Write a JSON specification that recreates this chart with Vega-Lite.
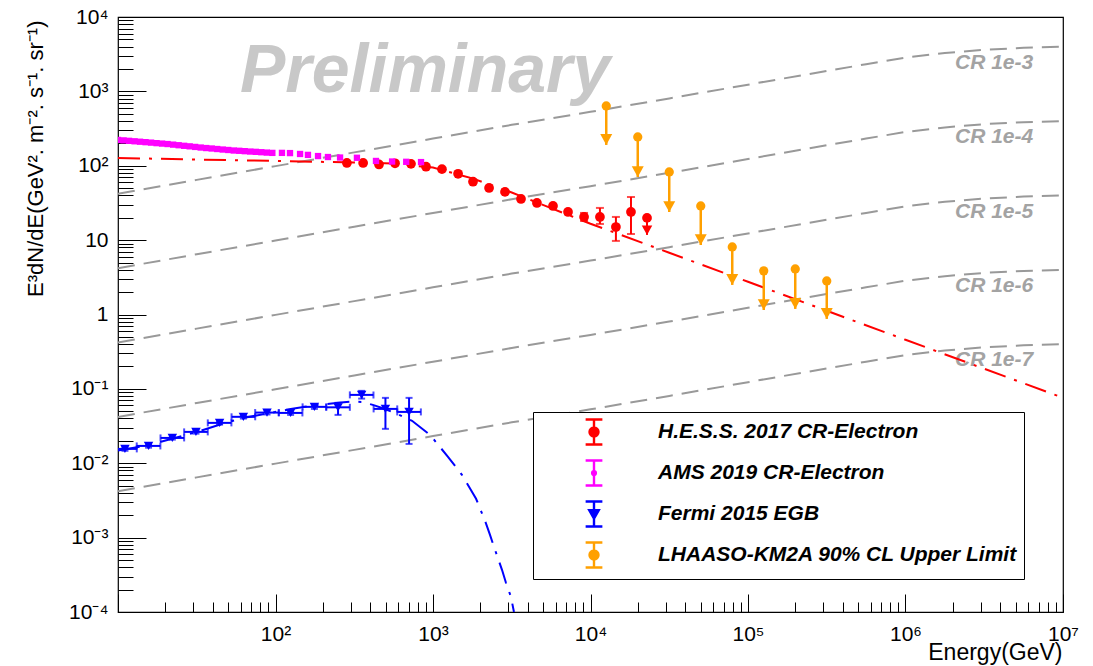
{
  "$schema": "https://vega.github.io/schema/vega-lite/v6.json",
  "width": 945,
  "height": 595,
  "autosize": "none",
  "padding": {"left": 118, "top": 17, "right": 30, "bottom": 54},
  "background": "white",
  "config": {
    "view": {"stroke": "black", "strokeWidth": 1.2, "fill": "white"},
    "axis": {"grid": false}
  },
  "datasets": {
    "cr": [
      {"E": 10, "v": 41.98, "line": "CR 1e-3"}, {"E": 31.623, "v": 64.57, "line": "CR 1e-3"}, {"E": 100, "v": 98.86, "line": "CR 1e-3"}, {"E": 316.23, "v": 151.36, "line": "CR 1e-3"}, {"E": 1000, "v": 231.74, "line": "CR 1e-3"}, {"E": 3162.3, "v": 354.81, "line": "CR 1e-3"}, {"E": 10000, "v": 530.88, "line": "CR 1e-3"}, {"E": 31623, "v": 803.53, "line": "CR 1e-3"}, {"E": 100000, "v": 1230.3, "line": "CR 1e-3"}, {"E": 316228, "v": 1883.6, "line": "CR 1e-3"}, {"E": 562341, "v": 2317.4, "line": "CR 1e-3"}, {"E": 1000000, "v": 2851.0, "line": "CR 1e-3"}, {"E": 1778279, "v": 3273.4, "line": "CR 1e-3"}, {"E": 3162278, "v": 3630.8, "line": "CR 1e-3"}, {"E": 5623413, "v": 3845.9, "line": "CR 1e-3"}, {"E": 10000000, "v": 3981.1, "line": "CR 1e-3"},
      {"E": 10, "v": 4.198, "line": "CR 1e-4"}, {"E": 31.623, "v": 6.457, "line": "CR 1e-4"}, {"E": 100, "v": 9.886, "line": "CR 1e-4"}, {"E": 316.23, "v": 15.136, "line": "CR 1e-4"}, {"E": 1000, "v": 23.174, "line": "CR 1e-4"}, {"E": 3162.3, "v": 35.481, "line": "CR 1e-4"}, {"E": 10000, "v": 53.088, "line": "CR 1e-4"}, {"E": 31623, "v": 80.353, "line": "CR 1e-4"}, {"E": 100000, "v": 123.03, "line": "CR 1e-4"}, {"E": 316228, "v": 188.36, "line": "CR 1e-4"}, {"E": 562341, "v": 231.74, "line": "CR 1e-4"}, {"E": 1000000, "v": 285.10, "line": "CR 1e-4"}, {"E": 1778279, "v": 327.34, "line": "CR 1e-4"}, {"E": 3162278, "v": 363.08, "line": "CR 1e-4"}, {"E": 5623413, "v": 384.59, "line": "CR 1e-4"}, {"E": 10000000, "v": 398.11, "line": "CR 1e-4"},
      {"E": 10, "v": 0.4198, "line": "CR 1e-5"}, {"E": 31.623, "v": 0.6457, "line": "CR 1e-5"}, {"E": 100, "v": 0.9886, "line": "CR 1e-5"}, {"E": 316.23, "v": 1.5136, "line": "CR 1e-5"}, {"E": 1000, "v": 2.3174, "line": "CR 1e-5"}, {"E": 3162.3, "v": 3.5481, "line": "CR 1e-5"}, {"E": 10000, "v": 5.3088, "line": "CR 1e-5"}, {"E": 31623, "v": 8.0353, "line": "CR 1e-5"}, {"E": 100000, "v": 12.303, "line": "CR 1e-5"}, {"E": 316228, "v": 18.836, "line": "CR 1e-5"}, {"E": 562341, "v": 23.174, "line": "CR 1e-5"}, {"E": 1000000, "v": 28.510, "line": "CR 1e-5"}, {"E": 1778279, "v": 32.734, "line": "CR 1e-5"}, {"E": 3162278, "v": 36.308, "line": "CR 1e-5"}, {"E": 5623413, "v": 38.459, "line": "CR 1e-5"}, {"E": 10000000, "v": 39.811, "line": "CR 1e-5"},
      {"E": 10, "v": 0.04198, "line": "CR 1e-6"}, {"E": 31.623, "v": 0.06457, "line": "CR 1e-6"}, {"E": 100, "v": 0.09886, "line": "CR 1e-6"}, {"E": 316.23, "v": 0.15136, "line": "CR 1e-6"}, {"E": 1000, "v": 0.23174, "line": "CR 1e-6"}, {"E": 3162.3, "v": 0.35481, "line": "CR 1e-6"}, {"E": 10000, "v": 0.53088, "line": "CR 1e-6"}, {"E": 31623, "v": 0.80353, "line": "CR 1e-6"}, {"E": 100000, "v": 1.2303, "line": "CR 1e-6"}, {"E": 316228, "v": 1.8836, "line": "CR 1e-6"}, {"E": 562341, "v": 2.3174, "line": "CR 1e-6"}, {"E": 1000000, "v": 2.8510, "line": "CR 1e-6"}, {"E": 1778279, "v": 3.2734, "line": "CR 1e-6"}, {"E": 3162278, "v": 3.6308, "line": "CR 1e-6"}, {"E": 5623413, "v": 3.8459, "line": "CR 1e-6"}, {"E": 10000000, "v": 3.9811, "line": "CR 1e-6"},
      {"E": 10, "v": 0.004198, "line": "CR 1e-7"}, {"E": 31.623, "v": 0.006457, "line": "CR 1e-7"}, {"E": 100, "v": 0.009886, "line": "CR 1e-7"}, {"E": 316.23, "v": 0.015136, "line": "CR 1e-7"}, {"E": 1000, "v": 0.023174, "line": "CR 1e-7"}, {"E": 3162.3, "v": 0.035481, "line": "CR 1e-7"}, {"E": 10000, "v": 0.053088, "line": "CR 1e-7"}, {"E": 31623, "v": 0.080353, "line": "CR 1e-7"}, {"E": 100000, "v": 0.12303, "line": "CR 1e-7"}, {"E": 316228, "v": 0.18836, "line": "CR 1e-7"}, {"E": 562341, "v": 0.23174, "line": "CR 1e-7"}, {"E": 1000000, "v": 0.28510, "line": "CR 1e-7"}, {"E": 1778279, "v": 0.32734, "line": "CR 1e-7"}, {"E": 3162278, "v": 0.36308, "line": "CR 1e-7"}, {"E": 5623413, "v": 0.38459, "line": "CR 1e-7"}, {"E": 10000000, "v": 0.39811, "line": "CR 1e-7"}
    ],
    "crLabels": [
      {"E": 3650000, "v": 2000, "label": "CR 1e-3"},
      {"E": 3650000, "v": 200, "label": "CR 1e-4"},
      {"E": 3650000, "v": 20, "label": "CR 1e-5"},
      {"E": 3650000, "v": 2, "label": "CR 1e-6"},
      {"E": 3650000, "v": 0.2, "label": "CR 1e-7"}
    ],
    "watermark": [{"E": 59.5, "v": 981, "label": "Preliminary"}],
    "hessFit": [
      {"E": 10, "v": 127.1}, {"E": 31.62, "v": 121.3}, {"E": 100, "v": 115.9}, {"E": 316.2, "v": 110.7}, {"E": 562.3, "v": 107.2}, {"E": 1000, "v": 94.4}, {"E": 1778, "v": 67.6}, {"E": 3162, "v": 43.65}, {"E": 5623, "v": 26.9}, {"E": 10000, "v": 16.6}, {"E": 31623, "v": 6.76}, {"E": 100000, "v": 2.754}, {"E": 316228, "v": 1.122}, {"E": 1000000, "v": 0.457}, {"E": 3162278, "v": 0.1862}, {"E": 10000000, "v": 0.0759}
    ],
    "fermiFit": [
      {"E": 10, "v": 0.0148}, {"E": 15, "v": 0.0172}, {"E": 22, "v": 0.0213}, {"E": 32, "v": 0.0265}, {"E": 45, "v": 0.0335}, {"E": 62, "v": 0.0405}, {"E": 88, "v": 0.0465}, {"E": 125, "v": 0.0535}, {"E": 175, "v": 0.06}, {"E": 250, "v": 0.065}, {"E": 300, "v": 0.0675}, {"E": 354, "v": 0.0668}, {"E": 420, "v": 0.0605}, {"E": 490, "v": 0.054}, {"E": 600, "v": 0.0455}, {"E": 736, "v": 0.0372}, {"E": 957, "v": 0.0241}, {"E": 1092, "v": 0.01714}, {"E": 1245, "v": 0.0122}, {"E": 1527, "v": 0.00698}, {"E": 1693, "v": 0.00482}, {"E": 1877, "v": 0.00333}, {"E": 2140, "v": 0.00168}, {"E": 2301, "v": 0.00109}, {"E": 2439, "v": 0.000752}, {"E": 2742, "v": 0.000369}, {"E": 2905, "v": 0.000247}, {"E": 3126, "v": 0.00016}, {"E": 3266, "v": 0.0001}
    ],
    "fermi": [
      {"E": 11.07, "v": 0.0156, "xlo": 9.31, "xhi": 13.16, "lo": 0.0147, "hi": 0.0165},
      {"E": 15.63, "v": 0.0171, "xlo": 13.15, "xhi": 18.58, "lo": 0.0162, "hi": 0.018},
      {"E": 22.13, "v": 0.0219, "xlo": 18.62, "xhi": 26.3, "lo": 0.0208, "hi": 0.0231},
      {"E": 31.26, "v": 0.0264, "xlo": 26.3, "xhi": 37.15, "lo": 0.025, "hi": 0.0279},
      {"E": 44.16, "v": 0.0349, "xlo": 37.16, "xhi": 52.48, "lo": 0.0331, "hi": 0.0368},
      {"E": 62.52, "v": 0.0421, "xlo": 52.6, "xhi": 74.31, "lo": 0.0399, "hi": 0.0444},
      {"E": 88.31, "v": 0.048, "xlo": 74.3, "xhi": 104.96, "lo": 0.0453, "hi": 0.0508},
      {"E": 124.7, "v": 0.0475, "xlo": 104.9, "xhi": 148.2, "lo": 0.0447, "hi": 0.0505},
      {"E": 176.6, "v": 0.0573, "xlo": 148.6, "xhi": 209.9, "lo": 0.0538, "hi": 0.061},
      {"E": 249.5, "v": 0.0565, "xlo": 209.9, "xhi": 296.5, "lo": 0.0447, "hi": 0.0649},
      {"E": 352.4, "v": 0.083, "xlo": 296.5, "xhi": 418.8, "lo": 0.074, "hi": 0.094},
      {"E": 498.9, "v": 0.0538, "xlo": 419.8, "xhi": 592.9, "lo": 0.029, "hi": 0.0757},
      {"E": 704.7, "v": 0.049, "xlo": 592.9, "xhi": 837.5, "lo": 0.0182, "hi": 0.0757}
    ],
    "hess": [
      {"E": 284, "v": 109}, {"E": 360, "v": 109}, {"E": 454, "v": 104}, {"E": 574, "v": 108}, {"E": 725, "v": 106}, {"E": 903, "v": 97}, {"E": 1140, "v": 90}, {"E": 1443, "v": 78}, {"E": 1795, "v": 61}, {"E": 2270, "v": 50.3}, {"E": 2865, "v": 44.5}, {"E": 3620, "v": 35.8}, {"E": 4570, "v": 31.6}, {"E": 5780, "v": 28.8, "lo": 27.2, "hi": 30.5}, {"E": 7200, "v": 23.9, "lo": 22.4, "hi": 25.5}, {"E": 9100, "v": 20.5, "lo": 18.1, "hi": 23.2}, {"E": 11480, "v": 20.5, "lo": 16.5, "hi": 27.1}, {"E": 14500, "v": 15.0, "lo": 9.76, "hi": 20.5}, {"E": 18070, "v": 23.9, "lo": 12.1, "hi": 38.1}
    ],
    "hessUL": [{"E": 22850, "v": 19.9, "tip": 11.75}],
    "ams": [
      {"E": 10.0, "v": 222.3}, {"E": 10.84, "v": 219.3}, {"E": 11.75, "v": 216.3}, {"E": 12.74, "v": 213.3}, {"E": 13.8, "v": 210.4}, {"E": 14.96, "v": 207.5}, {"E": 16.22, "v": 204.6}, {"E": 17.58, "v": 201.4}, {"E": 19.05, "v": 198.6}, {"E": 20.65, "v": 195.9}, {"E": 22.39, "v": 192.3}, {"E": 24.27, "v": 188.8}, {"E": 26.3, "v": 185.4}, {"E": 28.51, "v": 182.4}, {"E": 30.9, "v": 179.1}, {"E": 33.5, "v": 175.8}, {"E": 36.31, "v": 173.0}, {"E": 39.36, "v": 170.6}, {"E": 42.66, "v": 167.9}, {"E": 46.24, "v": 165.2}, {"E": 50.12, "v": 162.9}, {"E": 54.33, "v": 160.3}, {"E": 58.88, "v": 158.9}, {"E": 63.83, "v": 157.0}, {"E": 69.18, "v": 155.2}, {"E": 74.99, "v": 153.8}, {"E": 81.28, "v": 152.1}, {"E": 88.1, "v": 150.3}, {"E": 95.5, "v": 148.9},
      {"E": 109.9, "v": 149}, {"E": 123.6, "v": 148}, {"E": 143.2, "v": 144}, {"E": 160.7, "v": 140}, {"E": 186.2, "v": 135}, {"E": 215.3, "v": 131}, {"E": 257, "v": 129}, {"E": 328.9, "v": 128}, {"E": 434.5, "v": 116}, {"E": 550, "v": 114}, {"E": 676, "v": 113}, {"E": 839.5, "v": 112}
    ],
    "lhaaso": [
      {"E": 12589, "v": 637, "tip": 190.6}, {"E": 19953, "v": 244, "tip": 70.6}, {"E": 31623, "v": 82.6, "tip": 23.9}, {"E": 50119, "v": 28.8, "tip": 8.6}, {"E": 79433, "v": 8.1, "tip": 2.5}, {"E": 125893, "v": 3.86, "tip": 1.15}, {"E": 199526, "v": 4.1, "tip": 1.19}, {"E": 316228, "v": 2.83, "tip": 0.873}
    ],
    "legendRows": [
      {"series": "H.E.S.S. 2017 CR-Electron"},
      {"series": "AMS 2019 CR-Electron"},
      {"series": "Fermi 2015 EGB"},
      {"series": "LHAASO-KM2A 90% CL Upper Limit"}
    ]
  },
  "layer": [
    {
      "data": {"name": "cr"},
      "mark": {"type": "line", "color": "#999999", "strokeWidth": 2, "strokeDash": [17, 9], "clip": true},
      "encoding": {
        "x": {"field": "E", "type": "quantitative", "scale": {"type": "log", "domain": [10, 10000000], "nice": false},
          "axis": {"orient": "bottom", "values": [100, 1000, 10000, 100000, 1000000, 10000000],
            "labelExpr": "datum.value < 500 ? '10²' : datum.value < 5000 ? '10³' : datum.value < 50000 ? '10⁴' : datum.value < 500000 ? '10⁵' : datum.value < 5000000 ? '10⁶' : '10⁷'",
            "ticks": false, "domain": false, "grid": false, "labelFont": "Liberation Sans", "labelFontSize": 21, "labelColor": "black", "labelPadding": 11, "labelFlush": false, "labelOverlap": false,
            "title": "Energy(GeV)", "titleX": 944, "titleY": 47, "titleAlign": "right", "titleBaseline": "alphabetic", "titleFont": "Liberation Sans", "titleFontSize": 23, "titleFontWeight": "normal", "titleColor": "black"}},
        "y": {"field": "v", "type": "quantitative", "scale": {"type": "log", "domain": [0.0001, 10000], "nice": false},
          "axis": {"orient": "left", "values": [0.0001, 0.001, 0.01, 0.1, 1, 10, 100, 1000, 10000],
            "labelExpr": "datum.value < 0.0005 ? '10⁻⁴' : datum.value < 0.005 ? '10⁻³' : datum.value < 0.05 ? '10⁻²' : datum.value < 0.5 ? '10⁻¹' : datum.value < 5 ? '1' : datum.value < 50 ? '10' : datum.value < 500 ? '10²' : datum.value < 5000 ? '10³' : '10⁴'",
            "ticks": false, "domain": false, "grid": false, "labelFont": "Liberation Sans", "labelFontSize": 21, "labelColor": "black", "labelPadding": 10, "labelFlush": false, "labelOverlap": false,
            "title": "E³dN/dE(GeV². m⁻². s⁻¹. sr⁻¹)", "titleX": -76, "titleY": 3, "titleAngle": 270, "titleAlign": "right", "titleBaseline": "alphabetic", "titleFont": "Liberation Sans", "titleFontSize": 22, "titleFontWeight": "normal", "titleColor": "black"}},
        "detail": {"field": "line", "type": "nominal"}
      }
    },
    {
      "data": {"name": "crLabels"},
      "mark": {"type": "text", "color": "#a3a3a3", "font": "Liberation Sans", "fontSize": 21, "fontStyle": "italic", "fontWeight": "bold", "align": "center", "baseline": "alphabetic"},
      "encoding": {
        "x": {"field": "E", "type": "quantitative", "scale": {"type": "log", "domain": [10, 10000000], "nice": false}, "axis": null},
        "y": {"field": "v", "type": "quantitative", "scale": {"type": "log", "domain": [0.0001, 10000], "nice": false}, "axis": null},
        "text": {"field": "label", "type": "nominal"}
      }
    },
    {
      "data": {"name": "watermark"},
      "mark": {"type": "text", "color": "#c8c8c8", "font": "Liberation Sans", "fontSize": 68, "fontStyle": "italic", "fontWeight": "bold", "align": "left", "baseline": "alphabetic"},
      "encoding": {
        "x": {"field": "E", "type": "quantitative", "scale": {"type": "log", "domain": [10, 10000000], "nice": false}, "axis": null},
        "y": {"field": "v", "type": "quantitative", "scale": {"type": "log", "domain": [0.0001, 10000], "nice": false}, "axis": null},
        "text": {"field": "label", "type": "nominal"}
      }
    },
    {
      "data": {"name": "hessFit"},
      "mark": {"type": "line", "color": "#ff0000", "strokeWidth": 2, "strokeDash": [22, 9, 3, 9], "clip": true},
      "encoding": {
        "x": {"field": "E", "type": "quantitative", "scale": {"type": "log", "domain": [10, 10000000], "nice": false},
          "axis": {"orient": "bottom", "values": [10, 100, 1000, 10000, 100000, 1000000, 10000000], "labels": false, "domain": false, "grid": false, "ticks": true, "tickSize": -18, "tickColor": "black", "tickWidth": 1, "title": null}},
        "y": {"field": "v", "type": "quantitative", "scale": {"type": "log", "domain": [0.0001, 10000], "nice": false},
          "axis": {"orient": "left", "values": [0.0001, 0.001, 0.01, 0.1, 1, 10, 100, 1000, 10000], "labels": false, "domain": false, "grid": false, "ticks": true, "tickSize": -28, "tickColor": "black", "tickWidth": 1, "title": null}}
      }
    },
    {
      "data": {"name": "fermiFit"},
      "mark": {"type": "line", "color": "#0000ff", "strokeWidth": 2, "strokeDash": [22, 9, 3, 9], "clip": true},
      "encoding": {
        "x": {"field": "E", "type": "quantitative", "scale": {"type": "log", "domain": [10, 10000000], "nice": false},
          "axis": {"orient": "bottom", "values": [20, 30, 40, 50, 60, 70, 80, 90, 200, 300, 400, 500, 600, 700, 800, 900, 2000, 3000, 4000, 5000, 6000, 7000, 8000, 9000, 20000, 30000, 40000, 50000, 60000, 70000, 80000, 90000, 200000, 300000, 400000, 500000, 600000, 700000, 800000, 900000, 2000000, 3000000, 4000000, 5000000, 6000000, 7000000, 8000000, 9000000], "labels": false, "domain": false, "grid": false, "ticks": true, "tickSize": -10, "tickColor": "black", "tickWidth": 1, "title": null}},
        "y": {"field": "v", "type": "quantitative", "scale": {"type": "log", "domain": [0.0001, 10000], "nice": false},
          "axis": {"orient": "left", "values": [0.0002, 0.0003, 0.0004, 0.0005, 0.0006, 0.0007, 0.0008, 0.0009, 0.002, 0.003, 0.004, 0.005, 0.006, 0.007, 0.008, 0.009, 0.02, 0.03, 0.04, 0.05, 0.06, 0.07, 0.08, 0.09, 0.2, 0.3, 0.4, 0.5, 0.6, 0.7, 0.8, 0.9, 2, 3, 4, 5, 6, 7, 8, 9, 20, 30, 40, 50, 60, 70, 80, 90, 200, 300, 400, 500, 600, 700, 800, 900, 2000, 3000, 4000, 5000, 6000, 7000, 8000, 9000], "labels": false, "domain": false, "grid": false, "ticks": true, "tickSize": -15, "tickColor": "black", "tickWidth": 1, "title": null}}
      }
    },
    {
      "data": {"name": "fermi"},
      "mark": {"type": "rule", "color": "#0000ff", "strokeWidth": 2, "clip": true},
      "encoding": {
        "x": {"field": "xlo", "type": "quantitative", "scale": {"type": "log", "domain": [10, 10000000], "nice": false}, "axis": null},
        "x2": {"field": "xhi"},
        "y": {"field": "v", "type": "quantitative", "scale": {"type": "log", "domain": [0.0001, 10000], "nice": false}, "axis": null}
      }
    },
    {
      "data": {"name": "fermi"},
      "mark": {"type": "rule", "color": "#0000ff", "strokeWidth": 2, "clip": true},
      "encoding": {
        "x": {"field": "E", "type": "quantitative", "scale": {"type": "log", "domain": [10, 10000000], "nice": false}, "axis": null},
        "y": {"field": "lo", "type": "quantitative", "scale": {"type": "log", "domain": [0.0001, 10000], "nice": false}, "axis": null},
        "y2": {"field": "hi"}
      }
    },
    {
      "data": {"name": "fermi"},
      "mark": {"type": "tick", "orient": "vertical", "color": "#0000ff", "size": 7, "thickness": 2, "clip": true},
      "encoding": {
        "x": {"field": "xlo", "type": "quantitative", "scale": {"type": "log", "domain": [10, 10000000], "nice": false}, "axis": null},
        "y": {"field": "v", "type": "quantitative", "scale": {"type": "log", "domain": [0.0001, 10000], "nice": false}, "axis": null}
      }
    },
    {
      "data": {"name": "fermi"},
      "mark": {"type": "tick", "orient": "vertical", "color": "#0000ff", "size": 7, "thickness": 2, "clip": true},
      "encoding": {
        "x": {"field": "xhi", "type": "quantitative", "scale": {"type": "log", "domain": [10, 10000000], "nice": false}, "axis": null},
        "y": {"field": "v", "type": "quantitative", "scale": {"type": "log", "domain": [0.0001, 10000], "nice": false}, "axis": null}
      }
    },
    {
      "data": {"name": "fermi"},
      "mark": {"type": "tick", "orient": "horizontal", "color": "#0000ff", "size": 7, "thickness": 2, "clip": true},
      "encoding": {
        "x": {"field": "E", "type": "quantitative", "scale": {"type": "log", "domain": [10, 10000000], "nice": false}, "axis": null},
        "y": {"field": "lo", "type": "quantitative", "scale": {"type": "log", "domain": [0.0001, 10000], "nice": false}, "axis": null}
      }
    },
    {
      "data": {"name": "fermi"},
      "mark": {"type": "tick", "orient": "horizontal", "color": "#0000ff", "size": 7, "thickness": 2, "clip": true},
      "encoding": {
        "x": {"field": "E", "type": "quantitative", "scale": {"type": "log", "domain": [10, 10000000], "nice": false}, "axis": null},
        "y": {"field": "hi", "type": "quantitative", "scale": {"type": "log", "domain": [0.0001, 10000], "nice": false}, "axis": null}
      }
    },
    {
      "data": {"name": "fermi"},
      "mark": {"type": "point", "shape": "triangle-down", "filled": true, "color": "#0000ff", "size": 90, "opacity": 1, "clip": true},
      "encoding": {
        "x": {"field": "E", "type": "quantitative", "scale": {"type": "log", "domain": [10, 10000000], "nice": false}, "axis": null},
        "y": {"field": "v", "type": "quantitative", "scale": {"type": "log", "domain": [0.0001, 10000], "nice": false}, "axis": null}
      }
    },
    {
      "data": {"name": "hess"},
      "transform": [{"filter": "isValid(datum.lo)"}],
      "mark": {"type": "rule", "color": "#ff0000", "strokeWidth": 2},
      "encoding": {
        "x": {"field": "E", "type": "quantitative", "scale": {"type": "log", "domain": [10, 10000000], "nice": false}, "axis": null},
        "y": {"field": "lo", "type": "quantitative", "scale": {"type": "log", "domain": [0.0001, 10000], "nice": false}, "axis": null},
        "y2": {"field": "hi"}
      }
    },
    {
      "data": {"name": "hess"},
      "transform": [{"filter": "isValid(datum.lo)"}],
      "mark": {"type": "tick", "orient": "horizontal", "color": "#ff0000", "size": 8, "thickness": 2},
      "encoding": {
        "x": {"field": "E", "type": "quantitative", "scale": {"type": "log", "domain": [10, 10000000], "nice": false}, "axis": null},
        "y": {"field": "lo", "type": "quantitative", "scale": {"type": "log", "domain": [0.0001, 10000], "nice": false}, "axis": null}
      }
    },
    {
      "data": {"name": "hess"},
      "transform": [{"filter": "isValid(datum.hi)"}],
      "mark": {"type": "tick", "orient": "horizontal", "color": "#ff0000", "size": 8, "thickness": 2},
      "encoding": {
        "x": {"field": "E", "type": "quantitative", "scale": {"type": "log", "domain": [10, 10000000], "nice": false}, "axis": null},
        "y": {"field": "hi", "type": "quantitative", "scale": {"type": "log", "domain": [0.0001, 10000], "nice": false}, "axis": null}
      }
    },
    {
      "data": {"name": "hess"},
      "mark": {"type": "circle", "color": "#ff0000", "size": 95, "opacity": 1},
      "encoding": {
        "x": {"field": "E", "type": "quantitative", "scale": {"type": "log", "domain": [10, 10000000], "nice": false}, "axis": null},
        "y": {"field": "v", "type": "quantitative", "scale": {"type": "log", "domain": [0.0001, 10000], "nice": false}, "axis": null}
      }
    },
    {
      "data": {"name": "hessUL"},
      "mark": {"type": "rule", "color": "#ff0000", "strokeWidth": 2},
      "encoding": {
        "x": {"field": "E", "type": "quantitative", "scale": {"type": "log", "domain": [10, 10000000], "nice": false}, "axis": null},
        "y": {"field": "v", "type": "quantitative", "scale": {"type": "log", "domain": [0.0001, 10000], "nice": false}, "axis": null},
        "y2": {"field": "tip"}
      }
    },
    {
      "data": {"name": "hessUL"},
      "mark": {"type": "point", "shape": "M-1,-1.8L1,-1.8L0,0Z", "filled": true, "color": "#ff0000", "size": 110, "opacity": 1},
      "encoding": {
        "x": {"field": "E", "type": "quantitative", "scale": {"type": "log", "domain": [10, 10000000], "nice": false}, "axis": null},
        "y": {"field": "tip", "type": "quantitative", "scale": {"type": "log", "domain": [0.0001, 10000], "nice": false}, "axis": null}
      }
    },
    {
      "data": {"name": "hessUL"},
      "mark": {"type": "circle", "color": "#ff0000", "size": 95, "opacity": 1},
      "encoding": {
        "x": {"field": "E", "type": "quantitative", "scale": {"type": "log", "domain": [10, 10000000], "nice": false}, "axis": null},
        "y": {"field": "v", "type": "quantitative", "scale": {"type": "log", "domain": [0.0001, 10000], "nice": false}, "axis": null}
      }
    },
    {
      "data": {"name": "ams"},
      "mark": {"type": "square", "color": "#ff00ff", "size": 40, "opacity": 1, "clip": true},
      "encoding": {
        "x": {"field": "E", "type": "quantitative", "scale": {"type": "log", "domain": [10, 10000000], "nice": false}, "axis": null},
        "y": {"field": "v", "type": "quantitative", "scale": {"type": "log", "domain": [0.0001, 10000], "nice": false}, "axis": null}
      }
    },
    {
      "data": {"name": "lhaaso"},
      "mark": {"type": "rule", "color": "#ffa000", "strokeWidth": 2.5},
      "encoding": {
        "x": {"field": "E", "type": "quantitative", "scale": {"type": "log", "domain": [10, 10000000], "nice": false}, "axis": null},
        "y": {"field": "v", "type": "quantitative", "scale": {"type": "log", "domain": [0.0001, 10000], "nice": false}, "axis": null},
        "y2": {"field": "tip"}
      }
    },
    {
      "data": {"name": "lhaaso"},
      "mark": {"type": "point", "shape": "M-1,-1.8L1,-1.8L0,0Z", "filled": true, "color": "#ffa000", "size": 144, "opacity": 1},
      "encoding": {
        "x": {"field": "E", "type": "quantitative", "scale": {"type": "log", "domain": [10, 10000000], "nice": false}, "axis": null},
        "y": {"field": "tip", "type": "quantitative", "scale": {"type": "log", "domain": [0.0001, 10000], "nice": false}, "axis": null}
      }
    },
    {
      "data": {"name": "lhaaso"},
      "mark": {"type": "circle", "color": "#ffa000", "size": 85, "opacity": 1},
      "encoding": {
        "x": {"field": "E", "type": "quantitative", "scale": {"type": "log", "domain": [10, 10000000], "nice": false}, "axis": null},
        "y": {"field": "v", "type": "quantitative", "scale": {"type": "log", "domain": [0.0001, 10000], "nice": false}, "axis": null}
      }
    },
    {
      "data": {"name": "legendRows"},
      "mark": {"type": "point", "filled": true, "size": 625, "strokeWidth": 2.4, "opacity": 1},
      "encoding": {
        "x": {"field": "E", "type": "quantitative", "scale": {"type": "log", "domain": [10, 10000000], "nice": false}, "axis": null},
        "y": {"field": "v", "type": "quantitative", "scale": {"type": "log", "domain": [0.0001, 10000], "nice": false}, "axis": null},
        "fill": {"field": "series", "type": "nominal",
          "scale": {"domain": ["H.E.S.S. 2017 CR-Electron", "AMS 2019 CR-Electron", "Fermi 2015 EGB", "LHAASO-KM2A 90% CL Upper Limit"], "range": ["#ff0000", "#ff00ff", "#0000ff", "#ffa000"]},
          "legend": {"orient": "none", "legendX": 415, "legendY": 395, "title": null, "strokeColor": "black", "fillColor": "white", "padding": 6, "cornerRadius": 0, "rowPadding": 5, "symbolSize": 625, "symbolStrokeWidth": 2.4, "symbolOffset": 41, "labelOffset": 50, "labelFont": "Liberation Sans", "labelFontSize": 21, "labelFontStyle": "italic", "labelFontWeight": "bold", "labelColor": "black", "labelLimit": 0}},
        "stroke": {"field": "series", "type": "nominal",
          "scale": {"domain": ["H.E.S.S. 2017 CR-Electron", "AMS 2019 CR-Electron", "Fermi 2015 EGB", "LHAASO-KM2A 90% CL Upper Limit"], "range": ["#ff0000", "#ff00ff", "#0000ff", "#ffa000"]},
          "legend": {"orient": "none", "legendX": 415, "legendY": 395, "title": null, "strokeColor": "black", "fillColor": "white", "padding": 6, "cornerRadius": 0, "rowPadding": 5, "symbolSize": 625, "symbolStrokeWidth": 2.4, "symbolOffset": 41, "labelOffset": 50, "labelFont": "Liberation Sans", "labelFontSize": 21, "labelFontStyle": "italic", "labelFontWeight": "bold", "labelColor": "black", "labelLimit": 0}},
        "shape": {"field": "series", "type": "nominal",
          "scale": {"domain": ["H.E.S.S. 2017 CR-Electron", "AMS 2019 CR-Electron", "Fermi 2015 EGB", "LHAASO-KM2A 90% CL Upper Limit"],
            "range": [
              "M-0.67,-1H0.67M0,-1V1M-0.67,1H0.67M0.36,0A0.36,0.36,0,1,1,-0.36,0A0.36,0.36,0,1,1,0.36,0Z",
              "M-0.67,-1H0.67M0,-1V1M-0.67,1H0.67M0.15,0A0.15,0.15,0,1,1,-0.15,0A0.15,0.15,0,1,1,0.15,0Z",
              "M-0.67,-1H0.67M0,-1V1M-0.67,1H0.67M-0.38,-0.3L0.38,-0.3L0,0.36Z",
              "M-0.67,-1H0.67M0,-1V1M-0.67,1H0.67M0.36,0A0.36,0.36,0,1,1,-0.36,0A0.36,0.36,0,1,1,0.36,0Z"
            ]},
          "legend": {"orient": "none", "legendX": 415, "legendY": 395, "title": null, "strokeColor": "black", "fillColor": "white", "padding": 6, "cornerRadius": 0, "rowPadding": 5, "symbolSize": 625, "symbolStrokeWidth": 2.4, "symbolOffset": 41, "labelOffset": 50, "labelFont": "Liberation Sans", "labelFontSize": 21, "labelFontStyle": "italic", "labelFontWeight": "bold", "labelColor": "black", "labelLimit": 0}}
      }
    }
  ],
  "resolve": {"axis": {"x": "independent", "y": "independent"}}
}
